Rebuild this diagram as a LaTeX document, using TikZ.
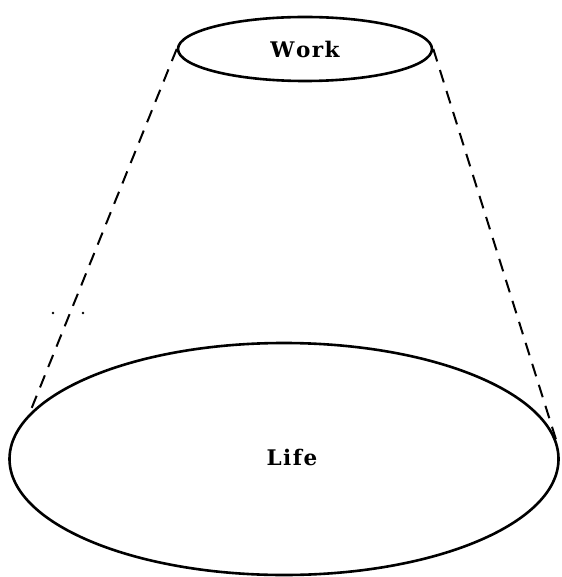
\documentclass[tikz,border=0pt]{standalone}
\usepackage{fontspec}
\newfontfamily\discfont{DejaVu Serif}
\usepackage{tikz}
\usetikzlibrary{shapes.geometric}

\begin{document}
\begin{tikzpicture}[
  x=1pt, y=-1pt,
  disc/.style={ellipse, draw, line width=2.6pt, inner sep=0pt,
               font=\discfont\fontsize{21.5}{23}\selectfont\bfseries},
  side/.style={line width=2pt, dash pattern=on 13pt off 9pt}]
\useasboundingbox (0,0) rectangle (561,577);
\node[disc, minimum width=254pt, minimum height=64pt] (work) at (305,49)
  {W\kern1.5pt o\kern1.5pt r\kern1.5pt k};
\node[disc, minimum width=549pt, minimum height=232pt] (life) at (284,459)
  {\raisebox{4pt}{\kern16pt L\kern1.5pt i\kern1.5pt f\kern1.5pt e}};
\draw[side] (work.west) -- (life.170);
\draw[side] (work.east) -- (life.4);
% stray marks
\fill (53,313) circle (1.3pt);
\fill (83,313) circle (1.3pt);
\end{tikzpicture}
\end{document}
